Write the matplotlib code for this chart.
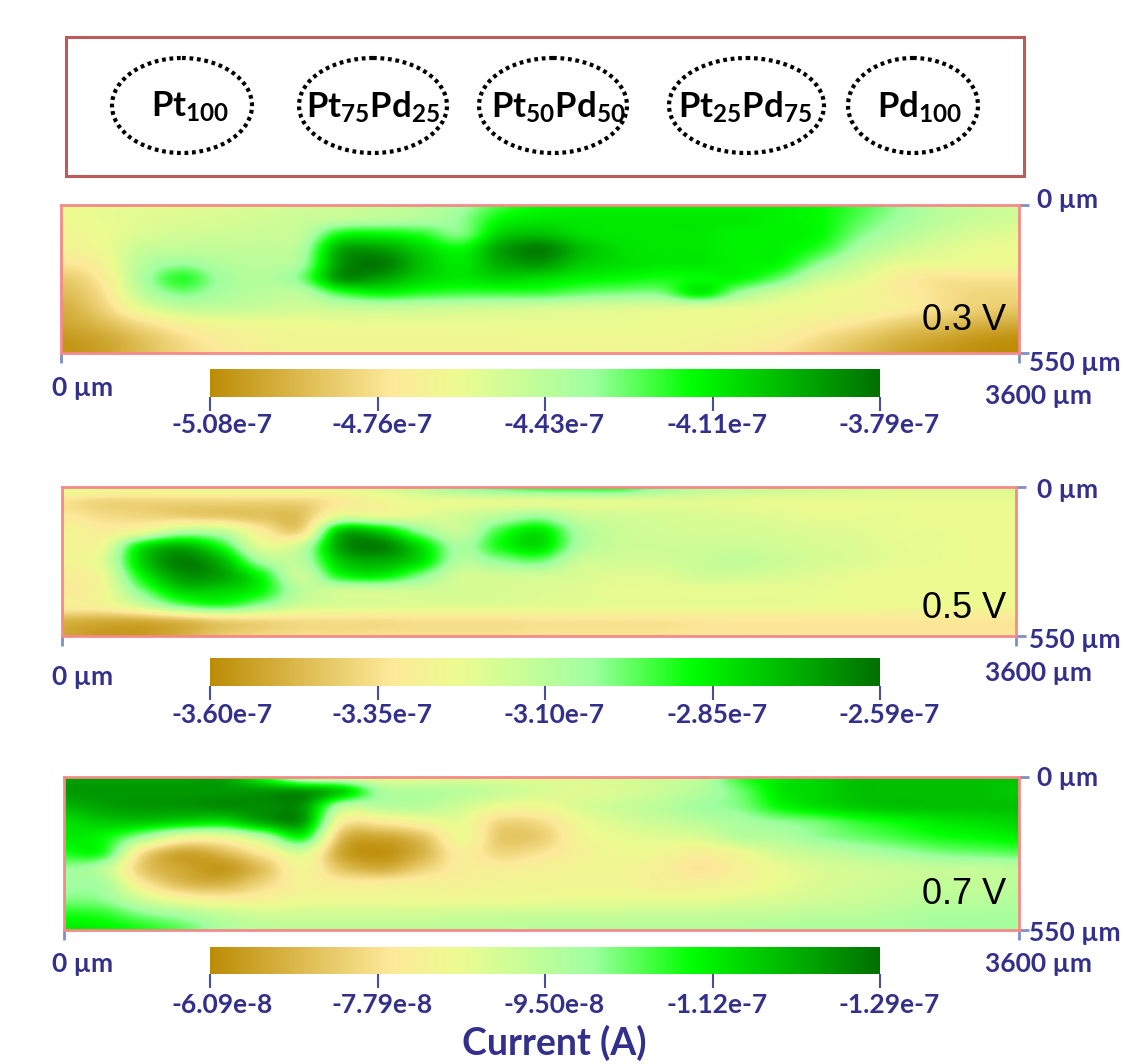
import numpy as np
import matplotlib
matplotlib.use('Agg')
import matplotlib.pyplot as plt
from matplotlib.colors import LinearSegmentedColormap
from matplotlib.patches import Ellipse, Rectangle

W, H = 1132, 1064
plt.rcParams['font.family'] = ['Lato', 'DejaVu Sans']
plt.rcParams['mathtext.fontset'] = 'custom'
plt.rcParams['mathtext.rm'] = 'Lato:bold'
plt.rcParams['mathtext.bf'] = 'Lato:bold'

NAVY = '#33308c'
SALMON = '#f58a8a'
TICK = '#7f8fc4'

compositions = [r'$\mathrm{Pt_{100}}$', r'$\mathrm{Pt_{75}Pd_{25}}$', r'$\mathrm{Pt_{50}Pd_{50}}$',
                r'$\mathrm{Pt_{25}Pd_{75}}$', r'$\mathrm{Pd_{100}}$']
voltages = ['0.3 V', '0.5 V', '0.7 V']

# grids: position along the colour bar (0-100), rows 0-550 um, columns 0-3600 um
grid_03 = np.array([
    [36,38,39,40,41,42,44,46,48,50,55,66,72,74,74,74,74,74,74,72,66,58,50,47,45],
    [36,38,40,41,42,44,46,48,50,52,58,72,76,76,76,76,76,76,74,72,64,56,50,46,44],
    [34,37,41,44,45,46,48,70,72,68,60,80,84,78,76,76,76,74,74,72,60,52,46,42,40],
    [33,36,46,48,48,48,52,88,90,80,72,90,97,85,78,76,76,74,74,68,54,46,41,38,37],
    [26,32,50,57,52,50,55,92,98,84,76,88,92,82,78,76,76,74,72,58,46,39,37,36,36],
    [18,28,52,68,56,52,60,92,90,80,76,80,78,74,72,70,72,72,62,46,40,30,26,26,26],
    [14,24,48,60,54,50,50,66,72,68,66,66,66,62,60,60,74,56,44,38,34,30,25,22,22],
    [10,20,38,47,48,46,44,46,47,46,45,44,43,42,41,40,40,38,37,36,34,30,24,20,18],
    [ 8,14,24,32,36,37,37,38,38,38,38,38,38,38,38,37,37,36,34,30,26,20,16,12,10],
    [ 4, 8,16,24,30,33,35,35,35,35,35,35,36,36,36,36,35,33,30,24,18,12, 8, 4, 2],
    [ 2, 6,14,22,28,32,34,34,34,34,34,34,35,35,35,34,33,30,26,20,14, 8, 4, 1, 0],
])
grid_05 = np.array([
    [42,42,42,42,42,42,42,42,44,50,60,66,72,72,72,60,52,50,48,46,44,42,42,42,42],
    [26,22,22,22,22,22,22,28,34,38,38,39,39,40,40,40,40,39,38,38,38,38,38,38,38],
    [28,24,22,20,18,16,16,40,38,40,44,50,56,46,44,43,42,41,40,38,38,38,37,37,37],
    [34,30,36,50,48,30,22,82,80,58,46,66,76,54,46,44,43,43,42,41,40,38,38,37,37],
    [34,36,74,86,70,40,46,90,97,78,54,70,78,54,46,45,45,45,44,42,41,39,38,37,37],
    [34,40,80,97,86,55,50,82,88,78,52,58,62,46,44,44,46,48,46,43,41,39,38,37,37],
    [30,36,72,92,90,72,46,70,74,60,44,44,44,42,40,40,44,44,42,40,38,37,37,37,37],
    [28,34,60,80,80,72,50,44,44,44,43,42,41,40,38,38,38,38,38,38,37,37,37,37,37],
    [30,32,44,60,66,56,44,42,41,40,40,40,39,39,38,38,38,38,38,37,37,36,36,36,36],
    [12,10,10,14,20,22,24,24,24,25,25,25,26,26,26,26,27,27,27,27,27,27,27,27,27],
    [ 8, 4, 4,10,18,22,24,24,25,25,25,25,26,26,26,26,27,27,27,27,27,27,27,27,27],
])
grid_07 = np.array([
    [90,90,90,90,90,70,44,40,38,38,40,40,40,42,44,46,50,68,76,80,84,84,84,84,84],
    [92,92,92,92,92,92,92,80,54,52,50,46,42,40,42,46,52,62,76,80,84,84,84,84,82],
    [86,90,92,92,94,94,92,50,50,50,44,36,36,42,46,50,56,60,72,78,82,84,84,84,84],
    [78,82,82,78,76,88,90,30,28,34,38,22,24,36,42,46,50,54,58,62,68,72,76,78,80],
    [76,72,54,36,36,50,70,14, 8,16,36,18,20,34,38,40,42,50,52,58,62,66,70,72,74],
    [70,68,24, 8,14,28,42, 8, 2,12,30,22,26,32,36,35,31,36,44,48,52,56,60,62,64],
    [58,50,18, 8, 4,16,34,16,10,20,30,30,32,34,34,31,26,32,38,42,44,46,48,48,50],
    [56,54,28,14,12,22,32,30,30,32,32,34,34,34,34,32,32,34,38,42,44,46,48,48,50],
    [60,58,44,34,30,32,36,36,36,36,36,36,37,38,38,38,38,40,42,44,46,48,50,50,52],
    [70,68,60,54,48,44,44,44,44,44,45,46,46,46,46,47,47,48,48,50,50,52,54,54,54],
    [76,74,70,64,54,50,50,50,50,50,50,50,52,52,52,52,52,52,54,54,54,54,56,56,56],
])
grids = [grid_03, grid_05, grid_07]

bar_labels = [['-5.08e-7', '-4.76e-7', '-4.43e-7', '-4.11e-7', '-3.79e-7'],
              ['-3.60e-7', '-3.35e-7', '-3.10e-7', '-2.85e-7', '-2.59e-7'],
              ['-6.09e-8', '-7.79e-8', '-9.50e-8', '-1.12e-7', '-1.29e-7']]

cmap = LinearSegmentedColormap.from_list('goldgreen', [(0, '#bc8c06'), (0.27, '#fde99a'), (0.37, '#edfb90'),
                                                       (0.57, '#a0ffa0'), (0.72, '#00ff00'), (1, '#007000')])

# pixel boxes, left, top, right, bottom
panel_boxes = [(61, 205, 1019, 353), (62, 487, 1016, 636), (64, 777, 1019, 930)]
bar_boxes = [(210, 369, 880, 397), (210, 658, 880, 686), (210, 947, 880, 974)]
ellipse_x = [(112, 252), (299, 447), (479, 627), (669, 824), (848, 978)]
name_x = [190, 373, 558, 745, 920]
bar_label_x = [222, 382, 554, 717, 889]


def px_axes(fig, box, **kw):
    l, t, r, b = box
    return fig.add_axes([l / W, 1 - b / H, (r - l) / W, (b - t) / H], **kw)


fig = plt.figure(figsize=(W / 100, H / 100), dpi=100)

for grid, pbox, bbox in zip(grids, panel_boxes, bar_boxes):
    ax = px_axes(fig, pbox)
    dx, dy = 3600 / (grid.shape[1] - 1), 550 / (grid.shape[0] - 1)
    im = ax.imshow(grid, cmap=cmap, vmin=0, vmax=100, aspect='auto', interpolation='catrom',
                   extent=(-dx / 2, 3600 + dx / 2, 550 + dy / 2, -dy / 2))
    ax.set_xlim(0, 3600)
    ax.set_ylim(550, 0)
    ax.set_xticks([0, 3600], labels=[])
    ax.yaxis.tick_right()
    ax.set_yticks([0, 550], labels=[])
    ax.tick_params(length=7, width=2, color=TICK)
    for s in ax.spines.values():
        s.set_color(SALMON)
        s.set_linewidth(2)

    cax = px_axes(fig, bbox)
    cb = fig.colorbar(im, cax=cax, orientation='horizontal')
    cb.set_ticks([0, 25, 50, 75, 100], labels=[])
    cb.minorticks_off()
    cb.outline.set_visible(False)
    cax.tick_params(length=10, width=1.5, color='#4a4f9c')

# overlay in picture pixels for the annotations
ov = fig.add_axes([0, 0, 1, 1], facecolor='none')
ov.set_xlim(0, W)
ov.set_ylim(H, 0)
ov.axis('off')

ov.add_patch(Rectangle((66, 37), 958, 139, fill=False, ec='#bd5a5a', lw=2.2))
for (x0, x1), nx, name in zip(ellipse_x, name_x, compositions):
    ov.add_patch(Ellipse(((x0 + x1) / 2, 105.5), x1 - x0, 95, fill=False, ec='black', lw=3, ls=(0, (0.9, 0.9))))
    ov.text(nx, 107, name, ha='center', va='center', fontsize=25, color='black')

side_y = [(200, 363, 396, 388), (490, 640, 673, 677), (778, 933, 964, 964)]
bar_label_y = [425, 715, 1005]
volt_y = [320, 608, 895]
style = dict(color=NAVY, fontsize=19, fontweight='bold', va='center')
for i in range(3):
    y0, y550, y3600, yleft = side_y[i]
    ov.text(1037, y0, '0 µm', ha='left', **style)
    ov.text(1029, y550, '550 µm', ha='left', **style)
    ov.text(985, y3600, '3600 µm', ha='left', **style)
    ov.text(52, yleft, '0 µm', ha='left', **style)
    for x, lab in zip(bar_label_x, bar_labels[i]):
        ov.text(x, bar_label_y[i], lab, ha='center', **style)
    ov.text(1006, volt_y[i], voltages[i], ha='right', va='center', fontsize=26, color='black',
            family='Liberation Sans')

ov.text(554, 1043, 'Current (A)', ha='center', va='center', color=NAVY, fontsize=27, fontweight='bold')

fig.savefig('out.png', dpi=100)
